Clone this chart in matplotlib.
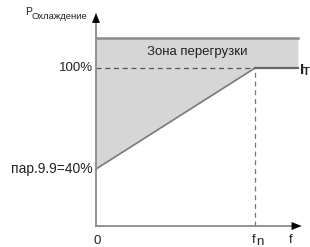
import matplotlib
matplotlib.use("Agg")
import matplotlib.pyplot as plt

# data: x in units of f_n, y in percent of cooling power
f_points = [0.0, 1.0, 1.27]
p_points = [40.0, 100.0, 100.0]
p_overload_top = 117.8
p_min_label = "пар.9.9=40%"
p_max_label = "100%"
zone_label = "Зона перегрузки"

plt.rcParams['font.family'] = ['Liberation Sans', 'DejaVu Sans']

fig = plt.figure(figsize=(3.10, 2.47), dpi=100)
ax = fig.add_axes([96 / 310, 21 / 247, 204 / 310, 211 / 247])
x_max, y_min, y_max = 1.283, 6.14, 131.5
ax.set_xlim(0, x_max)
ax.set_ylim(y_min, y_max)
ax.axis('off')

# overload zone
ax.fill_between(f_points, p_points, p_overload_top, color='#d6d6d6', lw=0, zorder=1)
ax.plot([0, f_points[-1]], [p_overload_top, p_overload_top], color='#8c8c8c', lw=1.8, zorder=2)

# characteristic curve
ax.plot(f_points[:2], p_points[:2], color='#7a7a7a', lw=1.2, zorder=3)
ax.plot(f_points[1:], p_points[1:], color='#666666', lw=1.6, zorder=3)

# dashed guides
ax.plot([0, 1], [100, 100], color='#555555', lw=0.9, ls=(0, (4, 3)), zorder=3)
ax.plot([1, 1], [y_min, 100], color='#777777', lw=0.9, ls=(0, (4, 3)), zorder=3)

# axes: grey lines with black arrow heads
y_tip = 132.7
ax.plot([0, x_max - 0.03], [y_min, y_min], color='#8a8a8a', lw=1.3, clip_on=False, zorder=4)
ax.plot([0, 0], [y_min, y_tip - 5], color='#8a8a8a', lw=1.3, clip_on=False, zorder=4)
head = dict(arrowstyle='-|>,head_length=0.7,head_width=0.28', color='black', lw=0.1,
            shrinkA=0, shrinkB=0)
ax.annotate('', xy=(x_max + 0.01, y_min), xytext=(x_max - 0.04, y_min),
            arrowprops=head, annotation_clip=False, zorder=5)
ax.annotate('', xy=(0, y_tip), xytext=(0, y_tip - 6), arrowprops=head,
            annotation_clip=False, zorder=5)

# labels
txt = dict(fontsize=9.5, color='#222222', clip_on=False)
ax.text(-0.02, 100, p_max_label, ha='right', va='center', **txt)
ax.text(-0.02, 40, p_min_label, ha='right', va='center', fontsize=10, color='#222222')
ax.text(0.634, 109.5, zone_label, ha='center', va='center', **txt)
ax.text(0.005, -2.5, "0", ha='center', va='center', **txt)
ax.text(1.005, -2.3, "f", ha='right', va='center', **txt)
ax.text(1.005, -3.4, "n", ha='left', va='center', **txt)
ax.text(1.225, -2, "f", ha='center', va='center', **txt)
ax.text(-0.403, 133.3, "P", ha='right', va='center', fontsize=7.5, color='#222222', clip_on=False)
ax.text(-0.403, 130.4, "Охлаждение", ha='left', va='center', fontsize=6.8, color='#222222',
        clip_on=False)
ax.text(1.283, 99, "I", ha='left', va='center', fontsize=11, fontweight='bold',
        color='#222222', clip_on=False)
ax.text(1.302, 97.5, "T", ha='left', va='center', fontsize=8, fontweight='bold',
        color='#222222', clip_on=False)

fig.savefig("out.png", dpi=100)
